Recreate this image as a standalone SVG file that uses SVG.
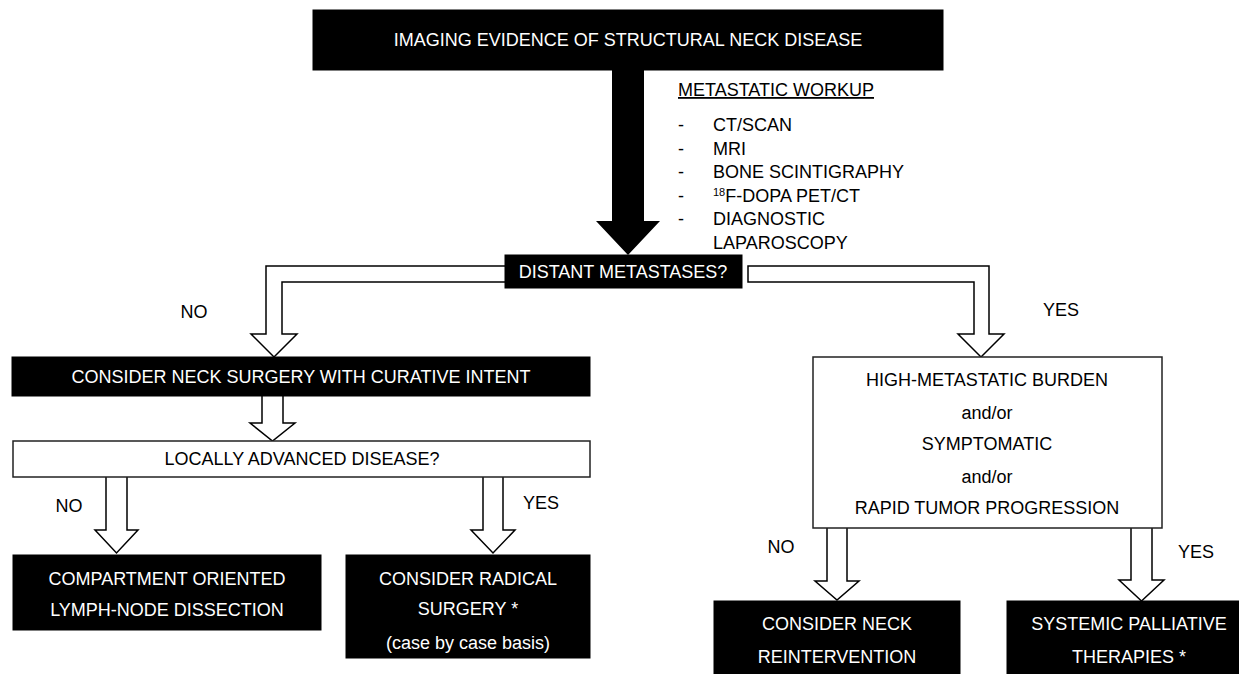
<svg xmlns="http://www.w3.org/2000/svg" width="1239" height="674" viewBox="0 0 1239 674">
<style>
text{font-family:"Liberation Sans",Arial,Helvetica,sans-serif;font-size:18px;fill:#000}
.w{fill:#fff}
.c{text-anchor:middle}
.blk{fill:#000;stroke:#000}
.wbox{fill:#fff;stroke:#222;stroke-width:1.5}
.open{fill:#fff;stroke:#000;stroke-width:1.5;stroke-linejoin:miter}
</style>
<g id="connectors">
<polygon points="612,70 644,70 644,221 660,221 628,255 596,221 612,221" fill="#000"/>
<path class="open" d="M505,266 H266 V334 H251 L274,357 L297,334 H282 V282 H505"/>
<path class="open" d="M748,266 H989 V334 H1004 L981,357 L958,334 H974 V282 H748 Z"/>
<path class="open" d="M262,396 V423 H250 L272.5,441 L295,423 H283 V396"/>
<path class="open" d="M106,477 V530 H95 L116.5,553 L138,530 H127 V477"/>
<path class="open" d="M483,477 V530 H471 L493,553 L515,530 H503 V477"/>
<path class="open" d="M827,528 V581 H815 L837,600 L859,581 H847 V528"/>
<path class="open" d="M1131,528 V580 H1119 L1141.5,601 L1164,580 H1152 V528"/>
<text x="194" y="318" class="c">NO</text>
<text x="1061" y="316" class="c">YES</text>
<text x="69" y="512" class="c">NO</text>
<text x="541" y="509" class="c">YES</text>
<text x="781" y="553" class="c">NO</text>
<text x="1196" y="558" class="c">YES</text>
</g>
<g id="n-imaging">
<rect class="blk" x="313" y="10" width="630" height="60"/>
<text x="628" y="46" class="c w">IMAGING EVIDENCE OF STRUCTURAL NECK DISEASE</text>
</g>
<g id="n-workup">
<text x="678" y="96" text-decoration="underline">METASTATIC WORKUP</text>
<text x="678" y="131">-</text><text x="713" y="131">CT/SCAN</text>
<text x="678" y="155">-</text><text x="713" y="155">MRI</text>
<text x="678" y="178">-</text><text x="713" y="178">BONE SCINTIGRAPHY</text>
<text x="678" y="202">-</text><text x="713" y="202"><tspan font-size="11" dy="-6">18</tspan><tspan dy="6">F-DOPA PET/CT</tspan></text>
<text x="678" y="225">-</text><text x="713" y="225">DIAGNOSTIC</text>
<text x="713" y="249">LAPAROSCOPY</text>
</g>
<g id="n-distant">
<rect class="blk" x="505" y="255" width="237" height="33"/>
<text x="623" y="278" class="c w">DISTANT METASTASES?</text>
</g>
<g id="n-curative">
<rect class="blk" x="12" y="357" width="578" height="39"/>
<text x="301" y="383" class="c w">CONSIDER NECK SURGERY WITH CURATIVE INTENT</text>
</g>
<g id="n-locally">
<rect class="wbox" x="13" y="441" width="577" height="36"/>
<text x="302" y="465" class="c">LOCALLY ADVANCED DISEASE?</text>
</g>
<g id="n-compartment">
<rect class="blk" x="13" y="555" width="308" height="75"/>
<text x="167" y="585" class="c w">COMPARTMENT ORIENTED</text>
<text x="167" y="616" class="c w">LYMPH-NODE DISSECTION</text>
</g>
<g id="n-radical">
<rect class="blk" x="346" y="555" width="244" height="103"/>
<text x="468" y="585" class="c w">CONSIDER RADICAL</text>
<text x="468" y="615" class="c w">SURGERY *</text>
<text x="468" y="649" class="c w">(case by case basis)</text>
</g>
<g id="n-burden">
<rect class="wbox" x="813" y="357" width="349" height="171"/>
<text x="987" y="386" class="c">HIGH-METASTATIC BURDEN</text>
<text x="987" y="419" class="c">and/or</text>
<text x="987" y="450" class="c">SYMPTOMATIC</text>
<text x="987" y="483" class="c">and/or</text>
<text x="987" y="514" class="c">RAPID TUMOR PROGRESSION</text>
</g>
<g id="n-reintervention">
<rect class="blk" x="714" y="601" width="246" height="73"/>
<text x="837" y="630" class="c w">CONSIDER NECK</text>
<text x="837" y="663" class="c w">REINTERVENTION</text>
</g>
<g id="n-systemic">
<rect class="blk" x="1007" y="601" width="240" height="73"/>
<text x="1129" y="630" class="c w">SYSTEMIC PALLIATIVE</text>
<text x="1129" y="663" class="c w">THERAPIES *</text>
</g>
</svg>
